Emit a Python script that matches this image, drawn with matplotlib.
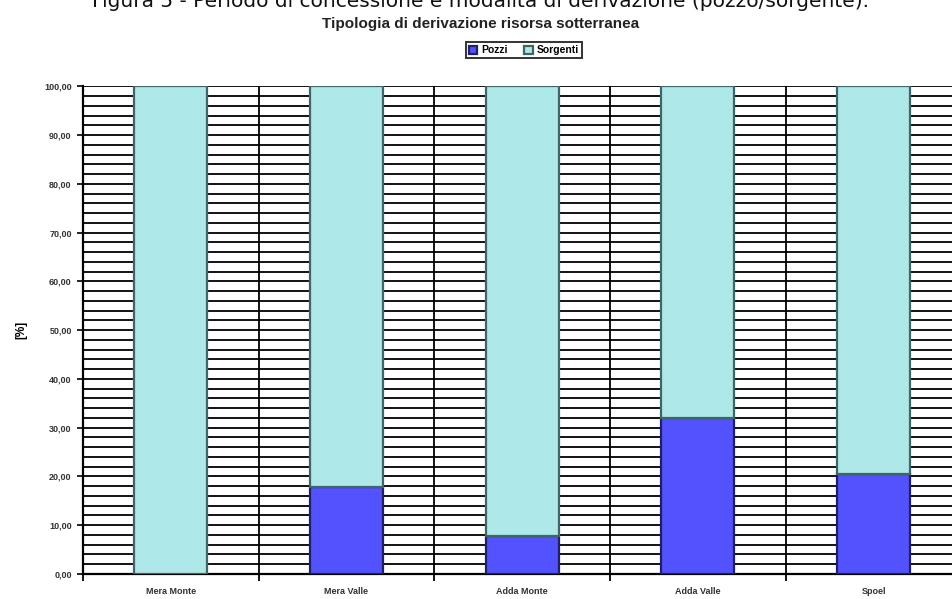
import matplotlib
matplotlib.use("Agg")
import matplotlib.pyplot as plt
import numpy as np

categories = ["Mera Monte", "Mera Valle", "Adda Monte", "Adda Valle", "Spoel"]
pozzi = [0.0, 17.8, 7.8, 32.0, 20.5]
sorgenti = [100.0 - v for v in pozzi]
yticks = [0, 10, 20, 30, 40, 50, 60, 70, 80, 90, 100]
ytick_labels = ["0,00", "10,00", "20,00", "30,00", "40,00", "50,00",
                "60,00", "70,00", "80,00", "90,00", "100,00"]

COL_POZZI = "#5252ff"
COL_SORG = "#aee8e8"
EDGE_POZZI = "#20206a"
EDGE_SORG = "#3f6666"

fig = plt.figure(figsize=(9.52, 5.99), dpi=100)
ax = fig.add_axes([0.087, 0.042, 0.923, 0.814])

x = np.arange(len(categories))
ax.set_xlim(-0.5, len(categories) - 0.5)
ax.set_ylim(0, 100)

# horizontal grid every 2 %, category separators
for yv in np.arange(2, 101, 2):
    ax.axhline(yv, color="black", lw=1.3, zorder=1)
for xv in np.arange(0.5, len(categories) - 0.5, 1):
    ax.axvline(xv, color="black", lw=1.3, zorder=1)

w = 0.415
ax.bar(x, pozzi, w, color=COL_POZZI, edgecolor=EDGE_POZZI, lw=1.6,
       label="Pozzi", zorder=3)
ax.bar(x, sorgenti, w, bottom=pozzi, color=COL_SORG, edgecolor=EDGE_SORG,
       lw=1.6, label="Sorgenti", zorder=3)

ax.set_yticks(yticks)
ax.set_yticklabels(ytick_labels, fontsize=6.5, family="Liberation Sans",
                   fontweight="bold", color="#333333")
ax.set_xticks(x)
ax.set_xticklabels(categories, fontsize=6.5, family="Liberation Sans",
                   fontweight="bold", color="#333333")
ax.tick_params(axis="x", length=0, pad=9.5)
ax.tick_params(axis="y", length=4, width=1.2, pad=4)
ax.set_xticks(np.arange(-0.5, len(categories), 1), minor=True)
ax.tick_params(axis="x", which="minor", length=5, width=1.3)

for s in ["top", "right"]:
    ax.spines[s].set_visible(False)
ax.spines["left"].set_linewidth(1.6)
ax.spines["bottom"].set_linewidth(1.6)

ax.set_ylabel("[%]", fontsize=8.5, family="Liberation Sans", fontweight="bold",
              labelpad=12)

leg = ax.legend(loc="lower center", bbox_to_anchor=(0.502, 1.057), ncol=2,
                prop={"family": "Liberation Sans", "size": 7.5, "weight": "bold"},
                frameon=True, fancybox=False, edgecolor="black",
                handlelength=0.8, handleheight=0.8, handletextpad=0.4,
                columnspacing=1.6, borderpad=0.3, borderaxespad=0)
leg.get_frame().set_linewidth(1.4)

fig.text(0.505, 0.989,
         "Figura 5 - Periodo di concessione e modalità di derivazione (pozzo/sorgente).",
         ha="center", va="baseline", fontsize=14.5, family="DejaVu Sans",
         color="#111111")
fig.text(0.505, 0.953, "Tipologia di derivazione risorsa sotterranea",
         ha="center", va="baseline", fontsize=11, family="Liberation Sans",
         fontweight="bold", color="#222222")

fig.savefig("out.png", dpi=100)
